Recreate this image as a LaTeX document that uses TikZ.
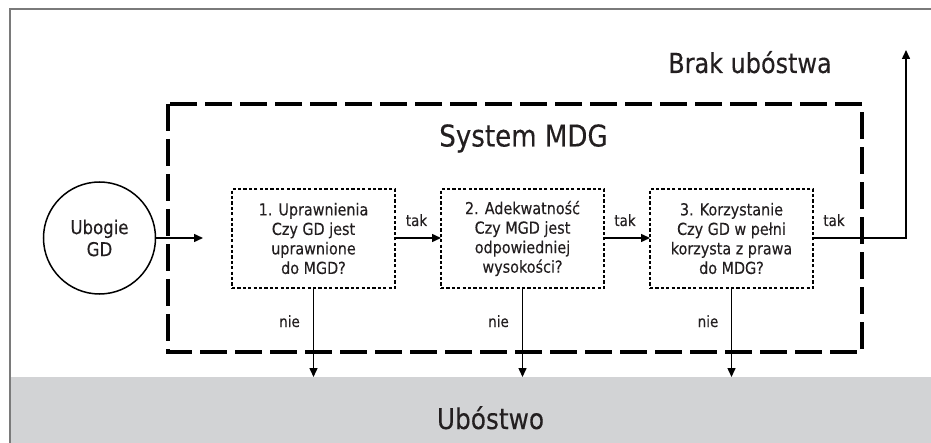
\documentclass[tikz,border=0pt]{standalone}
\usepackage{fontspec}
\setmainfont{DejaVu Sans}[FakeStretch=0.87, FakeBold=0.25]
\usetikzlibrary{arrows.meta}
\definecolor{ink}{HTML}{231F20}
\definecolor{band}{HTML}{D2D3D5}
\definecolor{frame}{HTML}{7A7A7A}
\tikzset{
  conn/.style={line width=1.5pt, draw=black, -{Triangle[length=9pt,width=8pt]}},
  qbox/.style={draw=black, line width=2.4pt, dash pattern=on 3.2pt off 2.2pt, rectangle,
    minimum width=163pt, minimum height=99pt, inner sep=0pt, outer sep=0pt,
    align=center, text=ink, font=\fontsize{16.5}{19.5}\selectfont},
  startnode/.style={draw=black, line width=1.5pt, circle, minimum size=112pt, inner sep=0pt,
    outer sep=0pt, align=center, text=ink, font=\fontsize{19}{22}\selectfont},
  small/.style={text=ink, font=\fontsize{15.5}{18}\selectfont, inner sep=0pt, anchor=base},
  bigtitle/.style={text=ink, inner sep=0pt, anchor=base},
  sysframe/.style={draw=black, line width=3.2pt, dash pattern=on 27pt off 8pt}
}
\begin{document}
\begin{tikzpicture}[x=1pt,y=-1pt]
\useasboundingbox (0,0) rectangle (931,443);
% grey band and outer frame
\fill[band] (10,377) rectangle (931,443);
\draw[frame, line width=1.6pt] (10,443) -- (10,9) -- (931,9);
% system frame
\draw[sysframe] (168,104) rectangle (862,352);
% titles
\node[bigtitle, font=\fontsize{27.5}{30}\selectfont] (brak) at (750,73) {Brak ubóstwa};
\node[bigtitle, font=\fontsize{30}{33}\selectfont] (sys) at (523.5,146.5) {System MDG};
\node[bigtitle, font=\fontsize{28.5}{31}\selectfont] (ubo) at (490.5,429) {Ubóstwo};
% nodes
\node[startnode] (ubogie) at (99.5,238) {Ubogie\\GD};
\node[qbox] (b1) at (313.5,238.5) {1. Uprawnienia\\Czy GD jest\\uprawnione\\do MGD?};
\node[qbox] (b2) at (522.5,238.5) {2. Adekwatność\\Czy MGD jest\\odpowiedniej\\wysokości?};
\node[qbox] (b3) at (731.5,238.5) {3. Korzystanie\\Czy GD w pełni\\korzysta z prawa\\do MDG?};
% free ends
\coordinate (in1) at (203,238);
\coordinate (top) at (906,50);
\coordinate (n1) at (313.5,377);
\coordinate (n2) at (522.5,377);
\coordinate (n3) at (731.5,377);
% connectors
\draw[conn] (ubogie.east |- 0,238) -- (in1);
\draw[conn] (b1.east |- 0,238) -- (b2.west |- 0,238);
\draw[conn] (b2.east |- 0,238) -- (b3.west |- 0,238);
\draw[conn] (b3.east |- 0,238) -| (top);
\draw[conn] (b1.south) -- (n1);
\draw[conn] (b2.south) -- (n2);
\draw[conn] (b3.south) -- (n3);
% labels
\node[small] (t1) at (416.5,226) {tak};
\node[small] (t2) at (625,226) {tak};
\node[small] (t3) at (834,226) {tak};
\node[small] (l1) at (289.5,327) {nie};
\node[small] (l2) at (498.5,327) {nie};
\node[small] (l3) at (708,327) {nie};
\end{tikzpicture}
\end{document}
